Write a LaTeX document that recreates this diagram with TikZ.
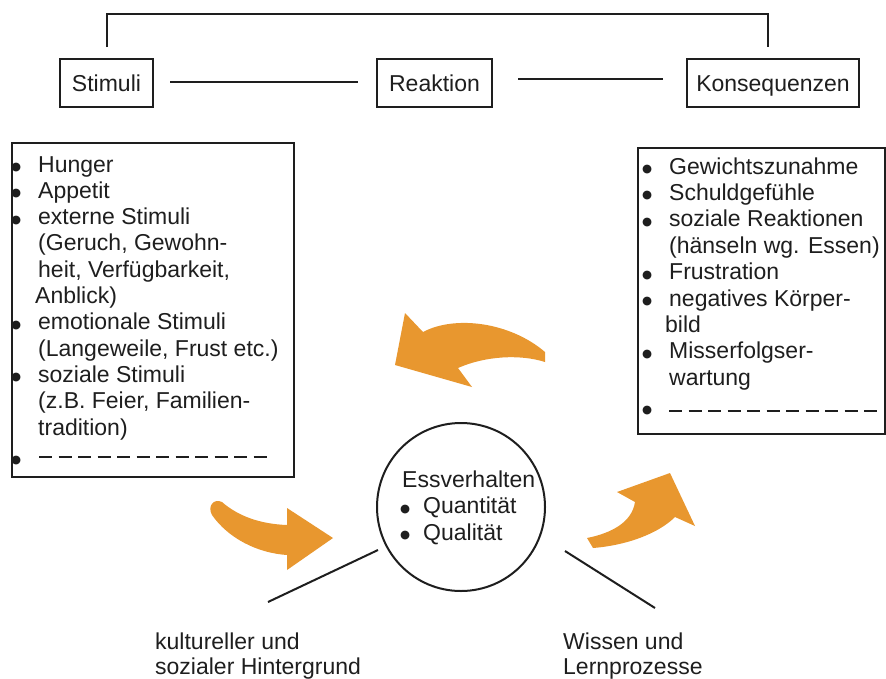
\documentclass[tikz,border=0pt]{standalone}
\usepackage{fontspec}
\setmainfont{Liberation Sans}
\newfontfamily\dvsans{DejaVu Sans}
\definecolor{arr}{RGB}{232,151,47}
\definecolor{ink}{RGB}{30,30,30}
\newcommand\bigdot{\raisebox{1.5pt}{\dvsans\fontsize{11.5}{12}\selectfont ●}}
\newcommand\bul{\makebox[27pt][l]{\bigdot}}
\newcommand\lind{\hspace*{27pt}}
\begin{document}
\begin{tikzpicture}[x=1pt,y=-1pt,
  lbl/.style={draw=ink, line width=2pt, minimum height=48pt, text height=16.5pt,
    text depth=0pt, inner xsep=0pt, font=\fontsize{23}{26}\selectfont, text=ink},
  txt/.style={anchor=base west, inner sep=0pt, font=\fontsize{23}{26}\selectfont, text=ink},
  conn/.style={draw=ink, line width=2pt},
  bigbox/.style={draw=ink, line width=2.2pt, anchor=north west, inner sep=0pt},
  dashline/.style={draw=ink, line width=1.3pt, dash pattern=on 13pt off 6.5pt},
  orange/.style={fill=arr, draw=none}]
\useasboundingbox (0,0) rectangle (886,678);

% top row
\node[lbl, minimum width=93pt] (stim) at (106.5,83) {Stimuli};
\node[lbl, minimum width=115pt] (reak) at (434.5,83) {Reaktion};
\node[lbl, minimum width=172pt] (kons) at (773,83) {Konsequenzen};
\draw[conn] ([xshift=16pt,yshift=1pt]stim.east) -- ([xshift=-18pt,yshift=1pt]reak.west);
\draw[conn] ([xshift=25pt,yshift=4pt]reak.east) -- ([xshift=-23pt,yshift=4pt]kons.west);
\draw[conn] ([xshift=0.5pt,yshift=11pt]stim.north) -- ++(0,-33) -| ([xshift=-5pt,yshift=11pt]kons.north);

% big boxes
\node[bigbox, minimum width=282pt, minimum height=334pt] (lbox) at (11,142) {};
\node[bigbox, minimum width=247pt, minimum height=286pt] (rbox) at (637,147) {};

% left list
\foreach \t [count=\i] in {{\bul Hunger},{\bul Appetit},{\bul externe Stimuli},
  {\lind (Geruch, Gewohn-},{\lind heit, Verfügbarkeit,},{\hspace*{24pt}Anblick)},
  {\bul emotionale Stimuli},{\lind (Langeweile, Frust etc.)},{\bul soziale Stimuli},
  {\lind (z.B. Feier, Familien-},{\lind tradition)}}
  \node[txt] (l\i) at (11,{172+26.3*(\i-1)}) {\t};
\node[txt] (l12) at (11,465) {\bul};
\coordinate (ld1) at (39,457);
\coordinate (ld2) at (268,457);
\draw[dashline] (ld1) -- (ld2);

% right list
\foreach \t [count=\i] in {{\bul Gewichtszunahme},{\bul Schuldgefühle},{\bul soziale Reaktionen},
  {\lind (hänseln wg. Essen)},{\bul Frustration},{\bul negatives Körper-},
  {\hspace*{23pt}bild},{\bul Misserfolgser-},{\lind wartung}}
  \node[txt] (r\i) at (642,{174+26.4*(\i-1)}) {\t};
\node[txt] (r10) at (642,415) {\bul};
\coordinate (rd1) at (669,411);
\coordinate (rd2) at (880,411);
\draw[dashline] (rd1) -- (rd2);

% centre circle
\node[circle, draw=ink, line width=2pt, minimum size=168pt, inner sep=0pt] (ess) at (461,507) {};
\node[txt] (e1) at (402,487) {Essverhalten};
\node[txt] (e2) at (400,513.5) {\makebox[23pt][l]{\bigdot}Quantität};
\node[txt] (e3) at (400,540) {\makebox[23pt][l]{\bigdot}Qualität};

% bottom labels and lines
\node[txt] (k1) at (155,649) {kultureller und};
\node[txt] (k2) at (155,674) {sozialer Hintergrund};
\node[txt] (w1) at (563,649) {Wissen und};
\node[txt] (w2) at (563,674) {Lernprozesse};
\coordinate (la) at (268,602);
\coordinate (lb) at (378,550);
\coordinate (ra) at (565,551);
\coordinate (rb) at (655,608);
\draw[conn] (la) -- (lb);
\draw[conn] (ra) -- (rb);

% orange arrows
\fill[orange] (405,313) -- (395,365) -- (472,387) -- (458,368)
  .. controls (485,356) and (520,354) .. (545,362) -- (545,352)
  .. controls (510,322) and (455,315) .. (423,332) -- cycle;
\fill[orange] (287,525) -- (287,508) -- (333,538) -- (287,570) -- (287,555)
  .. controls (257,553) and (228,538) .. (212,515)
  .. controls (207,506) and (214,498) .. (222,502)
  .. controls (238,516) and (260,524) .. (287,525) -- cycle;
\fill[orange] (587,538) -- (593,548) .. controls (630,545) and (660,532) .. (675,517)
  -- (695,526) -- (670,473) -- (617,492) -- (635,502)
  .. controls (632,522) and (612,533) .. (587,538) -- cycle;
\end{tikzpicture}
\end{document}
